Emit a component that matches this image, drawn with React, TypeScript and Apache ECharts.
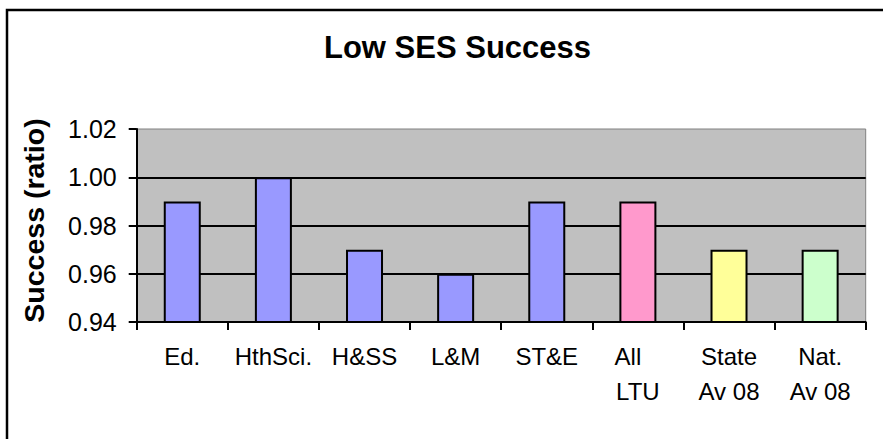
import React, { useEffect, useRef } from "react";
import * as echarts from "echarts";

const categories = ["Ed.", "HthSci.", "H&SS", "L&M", "ST&E", "All\nLTU", "State\nAv 08", "Nat.\nAv 08"];
const values = [0.99, 1.0, 0.97, 0.96, 0.99, 0.99, 0.97, 0.97];
const barColors = ["#9999FF", "#9999FF", "#9999FF", "#9999FF", "#9999FF", "#FF99CC", "#FFFF99", "#CCFFCC"];
const yTicks = { min: 0.94, max: 1.02, interval: 0.02 };
const titleText = "Low SES Success";
const yAxisTitle = "Success (ratio)";

const FONT = '"Liberation Sans", Arial, sans-serif';

export default function App() {
  const ref = useRef<HTMLDivElement>(null);
  useEffect(() => {
    if (!ref.current) return;
    const chart = echarts.init(ref.current, null, { renderer: "svg" });
    chart.setOption({
      animation: false,
      backgroundColor: "#FFFFFF",
      title: {
        text: titleText,
        left: 452.5,
        top: 27,
        textAlign: "center",
        textStyle: { fontFamily: FONT, fontSize: 31, fontWeight: "bold", color: "#000", lineHeight: 31 },
      },
      graphic: [
        {
          type: "rect",
          shape: { x: 7, y: 10, width: 920, height: 520 },
          style: { fill: "none", stroke: "#000", lineWidth: 2.5 },
          silent: true,
        },
        {
          type: "text",
          x: 34,
          y: 220.5,
          rotation: Math.PI / 2,
          style: {
            text: yAxisTitle,
            fontFamily: FONT,
            fontSize: 28.5,
            fontWeight: "bold",
            fill: "#000",
            textAlign: "center",
            textVerticalAlign: "middle",
          },
        },
      ],
      grid: {
        left: 136.7,
        right: 17.3,
        top: 129,
        bottom: 117,
        show: true,
        backgroundColor: "#C0C0C0",
        borderColor: "#808080",
        borderWidth: 1,
      },
      xAxis: {
        type: "category",
        data: categories,
        boundaryGap: true,
        axisLine: { show: true, lineStyle: { color: "#000", width: 2 } },
        axisTick: { show: true, length: 8, lineStyle: { color: "#000", width: 2 } },
        axisLabel: {
          interval: 0,
          margin: 17,
          color: "#000",
          fontFamily: FONT,
          fontSize: 24,
          lineHeight: 35,
          formatter: (v: string) => (v === "All\nLTU" ? "{a|All}\n{b|LTU}" : v),
          rich: {
            a: { fontFamily: FONT, fontSize: 24, lineHeight: 35, color: "#000", padding: [0, 20, 0, 0] },
            b: { fontFamily: FONT, fontSize: 24, lineHeight: 35, color: "#000" },
          },
        },
        splitLine: { show: false },
      },
      yAxis: {
        type: "value",
        min: yTicks.min,
        max: yTicks.max,
        interval: yTicks.interval,
        axisLine: { show: true, lineStyle: { color: "#000", width: 2 } },
        axisTick: { show: true, length: 8, lineStyle: { color: "#000", width: 2 } },
        axisLabel: {
          margin: 20,
          color: "#000",
          fontFamily: FONT,
          fontSize: 25,
          formatter: (v: number) => v.toFixed(2),
        },
        splitLine: { show: true, showMaxLine: false, lineStyle: { color: "#000", width: 2 } },
      },
      series: [
        {
          type: "bar",
          barWidth: 37,
          data: values.map((v, i) => ({
            value: v,
            itemStyle: { color: barColors[i], borderColor: "#000", borderWidth: 2 },
          })),
        },
      ],
    });
    return () => chart.dispose();
  }, []);
  return <div ref={ref} style={{ position: "fixed", left: 0, top: 0, width: 883, height: 439 }} />;
}
